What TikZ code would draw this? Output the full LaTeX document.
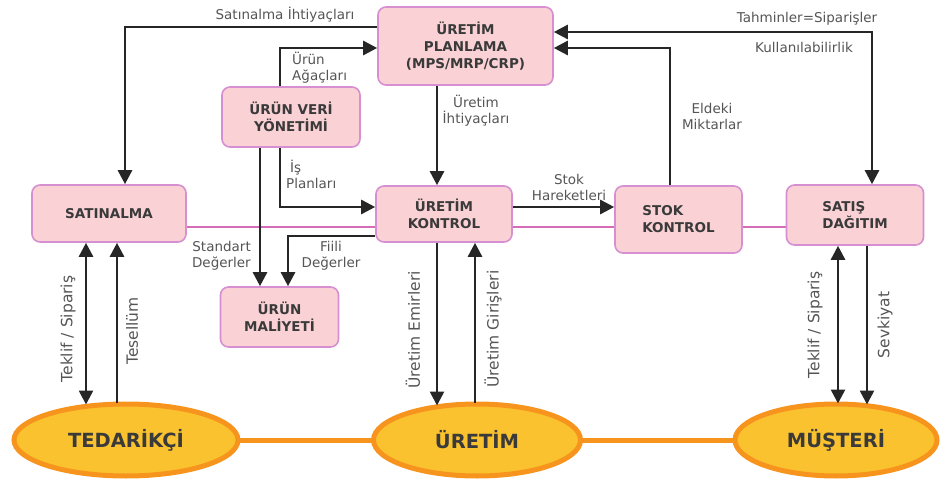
\documentclass[tikz,border=0pt]{standalone}
\usepackage{fontspec}
\setmainfont{DejaVu Sans}
\usetikzlibrary{arrows.meta,backgrounds,shapes.geometric}
\definecolor{boxfill}{HTML}{FAD2D6}
\definecolor{boxline}{HTML}{D68FD0}
\definecolor{pinkline}{HTML}{D66BB8}
\definecolor{ellfill}{HTML}{F9C22E}
\definecolor{ellline}{HTML}{F7941E}
\definecolor{boxtext}{HTML}{3A3A3A}
\definecolor{labtext}{HTML}{555555}
\tikzset{
  box/.style={draw=boxline, line width=1.6pt, fill=boxfill, rounded corners=8pt,
    font=\fontsize{13.5}{17}\selectfont\bfseries, text=boxtext, align=center, inner sep=0pt},
  ell/.style={ellipse, draw=ellline, line width=5pt, fill=ellfill,
    font=\fontsize{19.5}{24}\selectfont\bfseries, text=boxtext, inner sep=0pt},
  arr/.style={draw=black!85, line width=2.6pt, -{Triangle[width=14pt,length=14pt]}},
  darr/.style={draw=black!85, line width=2.6pt, {Triangle[width=14pt,length=14pt]}-{Triangle[width=14pt,length=14pt]}},
  lab/.style={font=\fontsize{13.5}{16}\selectfont, text=labtext, inner sep=0pt, align=center},
  rlab/.style={lab, font=\fontsize{15.5}{18}\selectfont, rotate=90},
}
\begin{document}
\begin{tikzpicture}[x=1pt,y=-1pt]
\useasboundingbox (0,0) rectangle (940,481);
% boxes
\node[box, minimum width=175pt, minimum height=78pt] (plan) at (465.5,46) {ÜRETİM\\PLANLAMA\\(MPS/MRP/CRP)};
\node[box, minimum width=138pt, minimum height=60pt] (veri) at (291,117) {ÜRÜN VERİ\\YÖNETİMİ};
\node[box, minimum width=154pt, minimum height=57pt] (satin) at (109,213.5) {SATINALMA};
\node[box, minimum width=136pt, minimum height=56pt] (kontrol) at (444,214) {ÜRETİM\\KONTROL};
\node[box, minimum width=127pt, minimum height=67pt, align=left] (stok) at (678.5,219.5) {STOK\\KONTROL};
\node[box, minimum width=137pt, minimum height=60pt, align=left] (satis) at (855,215) {SATIŞ\\DAĞITIM};
\node[box, minimum width=118pt, minimum height=60pt] (maliyet) at (279.5,317) {ÜRÜN\\MALİYETİ};
% ellipses
\node[ell, minimum width=224pt, minimum height=72pt] (tedarik) at (126,440) {TEDARİKÇİ};
\node[ell, minimum width=207pt, minimum height=72pt] (uretim) at (477,440) {ÜRETİM};
\node[ell, minimum width=202pt, minimum height=72pt] (musteri) at (836,440) {MÜŞTERİ};
% background lines
\begin{scope}[on background layer]
\draw[pinkline, line width=2.4pt] ([yshift=-13.5pt]satin.east) -- ([yshift=-12pt]satis.west);
\draw[ellline, line width=5pt] (tedarik.center) -- (musteri.center);
\end{scope}
% arrows
\draw[arr] ([yshift=19pt]plan.west) -| ([xshift=16pt]satin.north);
\draw[arr] ([xshift=-11pt]veri.north) |- ([yshift=-2pt]plan.west);
\draw[arr] ([xshift=-11pt]veri.south) |- ([yshift=7pt]kontrol.west);
\draw[arr] ([xshift=-31pt]veri.south) -- ([xshift=-19.5pt]maliyet.north);
\draw[arr] ([yshift=-22pt]kontrol.west) -| ([xshift=8.5pt]maliyet.north);
\draw[arr] ([xshift=-28.5pt]plan.south) -- ([xshift=-7pt]kontrol.north);
\draw[arr] ([yshift=7pt]kontrol.east) -- ([yshift=12.5pt]stok.west);
\draw[arr] ([xshift=-8.5pt]stok.north) |- ([yshift=-2pt]plan.east);
\draw[darr] ([yshift=14pt]plan.east) -| ([xshift=17pt]satis.north);
\draw[arr] ([xshift=-7pt]kontrol.south) -- ([xshift=-40pt,yshift=-4pt]uretim.north);
\draw[arr] ([xshift=-2pt,yshift=-1pt]uretim.north) -- ([xshift=31pt]kontrol.south);
\draw[darr] ([xshift=-23pt]satin.south) -- ([xshift=-40pt,yshift=-3pt]tedarik.north);
\draw[arr] ([xshift=-9pt,yshift=-1pt]tedarik.north) -- ([xshift=8pt]satin.south);
\draw[darr] ([xshift=-17pt]satis.south) -- ([xshift=2pt,yshift=-2pt]musteri.north);
\draw[arr] ([xshift=12pt]satis.south) -- ([xshift=31pt,yshift=-3pt]musteri.north);
% labels
\node[lab] (l1) at (285,15) {Satınalma İhtiyaçları};
\node[lab, align=left, anchor=west] (l2) at (292,68) {Ürün\\Ağaçları};
\node[lab, align=left, anchor=west] (l3) at (286,174) {\hspace*{4pt}İş\\Planları};
\node[lab, align=right, anchor=east] (l4) at (251,256) {Standart\\Değerler};
\node[lab] (l5) at (331,256) {Fiili\\Değerler};
\node[lab] (l6) at (476,111) {Üretim\\İhtiyaçları};
\node[lab] (l7) at (569,187) {Stok\\Hareketleri};
\node[lab] (l8) at (712,116) {Eldeki\\Miktarlar};
\node[lab] (l9) at (807,19) {Tahminler=Siparişler};
\node[lab] (l10) at (804,47) {Kullanılabilirlik};
\node[rlab] (l11) at (413,330) {Üretim Emirleri};
\node[rlab] (l12) at (493,329) {Üretim Girişleri};
\node[rlab] (l13) at (68,329) {Teklif / Sipariş};
\node[rlab] (l14) at (132,331) {Tesellüm};
\node[rlab] (l15) at (815,325) {Teklif / Sipariş};
\node[rlab] (l16) at (885,325) {Sevkiyat};
\end{tikzpicture}
\end{document}
